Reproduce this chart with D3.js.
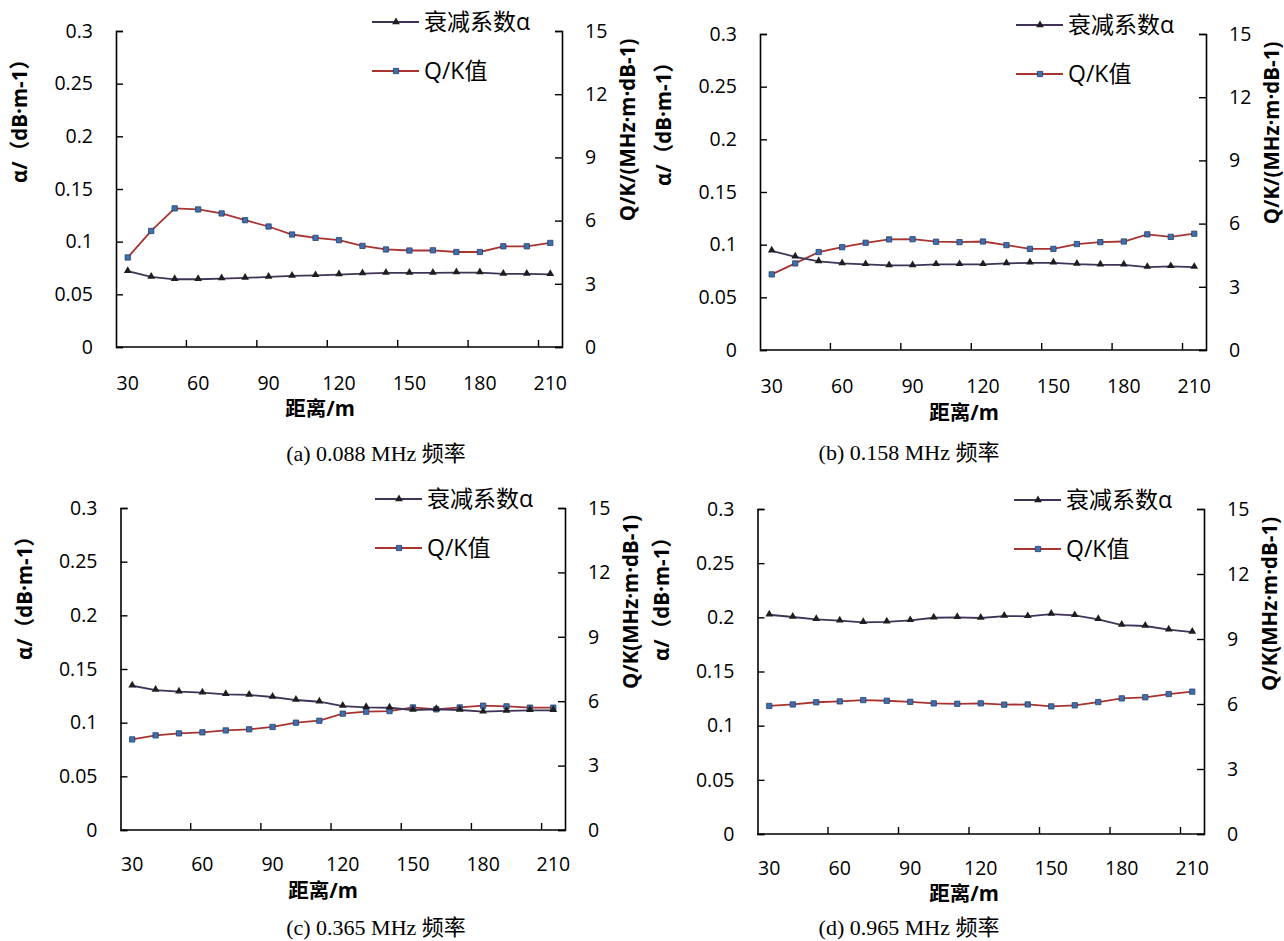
<!DOCTYPE html>
<html>
<head>
<meta charset="utf-8">
<script src="https://cdn.jsdelivr.net/npm/d3@7"></script>
<style>
  body { margin: 0; background: #fff; }
  .tick text { font-family: "Open Sans", "Noto Sans CJK SC", sans-serif; font-size: 19.5px; fill: #000; }
  .axis-title { font-family: "Open Sans", "Noto Sans CJK SC", sans-serif; font-size: 20.5px; font-weight: bold; fill: #000; }
  .legend-text { font-family: "Open Sans", "Noto Sans CJK SC", sans-serif; font-size: 23px; fill: #000; }
  .caption { font-family: "Liberation Serif", "Noto Sans CJK SC", serif; font-size: 22px; fill: #000; }
</style>
</head>
<body>
<div id="wrapper"></div>
<script>
// data
const distances = [30, 40, 50, 60, 70, 80, 90, 100, 110, 120, 130, 140, 150, 160, 170, 180, 190, 200, 210];
const xLabels = [30, 60, 90, 120, 150, 180, 210];
const alphaTicks = [0, 0.05, 0.1, 0.15, 0.2, 0.25, 0.3];
const qkTicks = [0, 3, 6, 9, 12, 15];

const alphaA = [0.072, 0.0665, 0.0643, 0.0643, 0.065, 0.0656, 0.0665, 0.0675, 0.068, 0.0688, 0.0697, 0.0703, 0.0703, 0.0703, 0.0707, 0.0707, 0.0694, 0.0694, 0.069];
const qkA = [4.25, 5.51, 6.58, 6.53, 6.34, 6.02, 5.72, 5.34, 5.18, 5.07, 4.8, 4.63, 4.58, 4.59, 4.51, 4.51, 4.78, 4.78, 4.94];

const alphaB = [0.0942, 0.0885, 0.0841, 0.0822, 0.0813, 0.0803, 0.0803, 0.0813, 0.0813, 0.0813, 0.0822, 0.0828, 0.0828, 0.0816, 0.0809, 0.0809, 0.0787, 0.0794, 0.0787];
const qkB = [3.59, 4.11, 4.65, 4.88, 5.09, 5.25, 5.26, 5.14, 5.12, 5.15, 4.98, 4.8, 4.8, 5.03, 5.12, 5.15, 5.49, 5.37, 5.52];

const alphaC = [0.1344, 0.1304, 0.1289, 0.1279, 0.1264, 0.1258, 0.1239, 0.1211, 0.1195, 0.1155, 0.1143, 0.1139, 0.1118, 0.1125, 0.1118, 0.1102, 0.1109, 0.1115, 0.1115];
const qkC = [4.22, 4.41, 4.5, 4.55, 4.64, 4.69, 4.8, 5.0, 5.09, 5.42, 5.51, 5.54, 5.71, 5.62, 5.71, 5.79, 5.76, 5.7, 5.7];

const alphaD = [0.2024, 0.2003, 0.1982, 0.1969, 0.1954, 0.1959, 0.1972, 0.1996, 0.2, 0.1994, 0.2012, 0.2009, 0.203, 0.2018, 0.1982, 0.1929, 0.192, 0.1886, 0.1864];
const qkD = [5.91, 5.98, 6.08, 6.12, 6.18, 6.15, 6.1, 6.03, 6.01, 6.03, 5.97, 5.98, 5.89, 5.94, 6.09, 6.26, 6.31, 6.46, 6.57];

const alphaSeries = [alphaA, alphaB, alphaC, alphaD];
const qkSeries = [qkA, qkB, qkC, qkD];
const captions = ['(a) 0.088 MHz 频率', '(b) 0.158 MHz 频率', '(c) 0.365 MHz 频率', '(d) 0.965 MHz 频率'];
const rightTitles = ['Q/K/(MHz·m·dB-1)', 'Q/K/(MHz·m·dB-1)', 'Q/K(MHz·m·dB-1)', 'Q/K(MHz·m·dB-1)'];
const leftTitle = 'α/（dB·m-1）';
const xTitle = '距离/m';
const legendLabels = ['衰减系数α', 'Q/K值'];

// panel boxes in page pixels
const layouts = [
  { left: 116, right: 562, top: 31, bottom: 347, capX: 376, capY: 453, xtX: 320, xtY: 409, rtY: 130, pad: 29 },
  { left: 760, right: 1206, top: 34, bottom: 350, capX: 909, capY: 452, xtX: 964, xtY: 413, rtY: 133, pad: 29 },
  { left: 120.5, right: 565, top: 508, bottom: 830, capX: 376, capY: 927, xtX: 323, xtY: 891, rtY: 602, pad: 27 },
  { left: 757.5, right: 1204, top: 509, bottom: 834, capX: 909, capY: 927, xtX: 964, xtY: 894, rtY: 604, pad: 27 },
];

const alphaColor = '#3f3358';
const triangleColor = '#1e1e1e';
const qkColor = '#a8332f';
const squareFill = '#3e6fae';
const squareStroke = '#24406a';

const svg = d3.select('#wrapper')
  .append('svg')
  .attr('width', 1284)
  .attr('height', 941);

const triangle = d3.symbol(d3.symbolTriangle).size(26);
const square = d3.symbol(d3.symbolSquare).size(28);

function drawPanel(i) {
  const box = layouts[i];
  const g = svg.append('g');

  const xScale = d3.scaleBand()
    .domain(distances)
    .range([box.left, box.right]);
  const alphaScale = d3.scaleLinear().domain([0, 0.3]).range([box.bottom, box.top]);
  const qkScale = d3.scaleLinear().domain([0, 15]).range([box.bottom, box.top]);
  const cx = (d) => xScale(d) + xScale.bandwidth() / 2;

  // left axis
  const leftAxis = g.append('g')
    .attr('transform', `translate(${box.left},0)`)
    .call(d3.axisLeft(alphaScale).tickValues(alphaTicks).tickSize(-7).tickPadding(23)
      .tickFormat((d) => String(+d.toFixed(2))));
  // right axis
  const rightAxis = g.append('g')
    .attr('transform', `translate(${box.right},0)`)
    .call(d3.axisRight(qkScale).tickValues(qkTicks).tickSize(-7).tickPadding(23));
  [leftAxis, rightAxis].forEach((a) => {
    a.select('.domain').attr('stroke', '#000').attr('stroke-width', 1.6);
    a.selectAll('.tick line').attr('stroke', '#000').attr('stroke-width', 1.4);
  });

  // bottom axis: labels centred on every third category
  const bottomAxis = g.append('g')
    .attr('transform', `translate(0,${box.bottom})`)
    .call(d3.axisBottom(xScale).tickValues(xLabels).tickSize(0).tickPadding(box.pad));
  bottomAxis.select('.domain').remove();
  g.append('line')
    .attr('x1', box.left).attr('x2', box.right)
    .attr('y1', box.bottom).attr('y2', box.bottom)
    .attr('stroke', '#000').attr('stroke-width', 1.6);
  // tick marks sit on the category boundaries
  g.append('g')
    .selectAll('line')
    .data(distances.filter((d, j) => j > 0 && j % 3 === 0))
    .join('line')
    .attr('x1', (d) => xScale(d)).attr('x2', (d) => xScale(d))
    .attr('y1', box.bottom).attr('y2', box.bottom - 7)
    .attr('stroke', '#000').attr('stroke-width', 1.4);

  // series
  const alphaData = alphaSeries[i].map((v, j) => ({ x: distances[j], y: v }));
  const qkData = qkSeries[i].map((v, j) => ({ x: distances[j], y: v }));

  g.append('path')
    .attr('d', d3.line().x((d) => cx(d.x)).y((d) => qkScale(d.y))(qkData))
    .attr('fill', 'none').attr('stroke', qkColor).attr('stroke-width', 1.8);
  g.append('path')
    .attr('d', d3.line().x((d) => cx(d.x)).y((d) => alphaScale(d.y))(alphaData))
    .attr('fill', 'none').attr('stroke', alphaColor).attr('stroke-width', 1.8);

  g.append('g').selectAll('path')
    .data(qkData)
    .join('path')
    .attr('d', square)
    .attr('transform', (d) => `translate(${cx(d.x)},${qkScale(d.y)})`)
    .attr('fill', squareFill).attr('stroke', squareStroke).attr('stroke-width', 0.8);
  g.append('g').selectAll('path')
    .data(alphaData)
    .join('path')
    .attr('d', triangle)
    .attr('transform', (d) => `translate(${cx(d.x)},${alphaScale(d.y) - 0.5})`)
    .attr('fill', triangleColor);

  // axis titles
  g.append('text')
    .attr('class', 'axis-title')
    .attr('transform', `translate(${box.left - 96},${box.top + 85}) rotate(-90)`)
    .attr('text-anchor', 'middle')
    .attr('dy', '0.35em')
    .text(leftTitle);
  g.append('text')
    .attr('class', 'axis-title')
    .attr('transform', `translate(${box.right + 66},${box.rtY}) rotate(-90)`)
    .attr('text-anchor', 'middle')
    .attr('dy', '0.35em')
    .text(rightTitles[i]);
  g.append('text')
    .attr('class', 'axis-title')
    .attr('x', box.xtX).attr('y', box.xtY)
    .attr('text-anchor', 'middle')
    .attr('dy', '0.35em')
    .text(xTitle);

  // legend
  const legend = g.append('g');
  const rows = [
    { y: box.top - 9, color: alphaColor, symbol: triangle, fill: triangleColor },
    { y: box.top + 40, color: qkColor, symbol: square, fill: squareFill },
  ];
  rows.forEach((row, k) => {
    legend.append('line')
      .attr('x1', box.right - 190).attr('x2', box.right - 143)
      .attr('y1', row.y).attr('y2', row.y)
      .attr('stroke', row.color).attr('stroke-width', 1.8);
    legend.append('path')
      .attr('d', row.symbol)
      .attr('transform', `translate(${box.right - 166},${row.y})`)
      .attr('fill', row.fill)
      .attr('stroke', k === 1 ? squareStroke : 'none')
      .attr('stroke-width', 0.8);
    legend.append('text')
      .attr('class', 'legend-text')
      .attr('x', box.right - 138)
      .attr('y', row.y)
      .attr('dy', '0.35em')
      .text(legendLabels[k]);
  });

  // caption
  g.append('text')
    .attr('class', 'caption')
    .attr('x', box.capX).attr('y', box.capY)
    .attr('text-anchor', 'middle')
    .attr('dy', '0.35em')
    .text(captions[i]);
}

d3.range(4).forEach(drawPanel);
</script>
</body>
</html>
